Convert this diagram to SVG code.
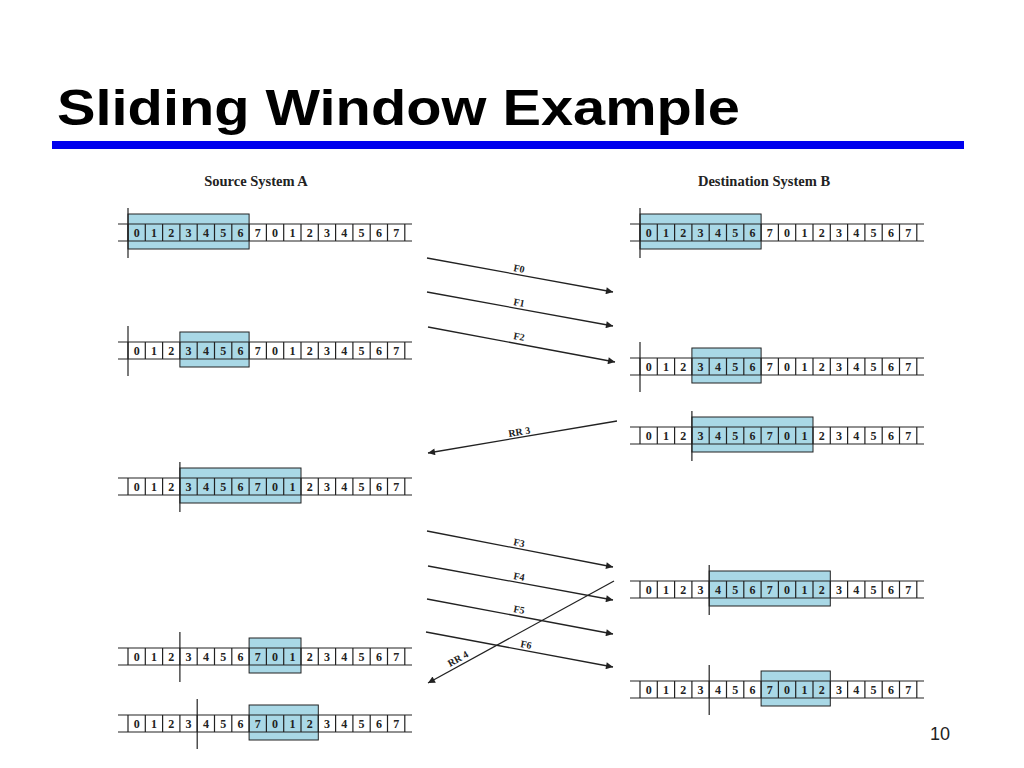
<svg xmlns="http://www.w3.org/2000/svg" xmlns:xlink="http://www.w3.org/1999/xlink" width="1024" height="768" viewBox="0 0 1024 768">
<style>
.d{font-family:"Liberation Serif",serif;font-weight:bold;font-size:12px;text-anchor:middle;fill:#222}
.w{fill:#a9d8e6;stroke:#222;stroke-width:1}
.ln{stroke:#222;stroke-width:1.2;fill:none}
.ar{stroke:#222;stroke-width:1.3;fill:none;marker-end:url(#ah)}
.lb{font-family:"Liberation Serif",serif;font-weight:bold;font-size:10px;fill:#222}
.h{font-family:"Liberation Serif",serif;font-weight:bold;font-size:14.5px;text-anchor:middle;fill:#222}
</style>
<defs>
<marker id="ah" viewBox="0 0 10 10" refX="10" refY="5" markerWidth="10" markerHeight="7" orient="auto" markerUnits="userSpaceOnUse"><path d="M0,0L10,5L0,10z" fill="#222"/></marker>
<path id="tape" class="ln" d="M118,-9H412M118,8H412M128,-9V8M145.3,-9V8M162.6,-9V8M179.9,-9V8M197.2,-9V8M214.5,-9V8M231.8,-9V8M249.1,-9V8M266.4,-9V8M283.7,-9V8M301,-9V8M318.3,-9V8M335.6,-9V8M352.9,-9V8M370.2,-9V8M387.5,-9V8M404.8,-9V8"/>
<g id="digits" class="d">
<text x="136.7" y="4">0</text><text x="154" y="4">1</text><text x="171.3" y="4">2</text><text x="188.6" y="4">3</text><text x="205.9" y="4">4</text><text x="223.2" y="4">5</text><text x="240.5" y="4">6</text><text x="257.8" y="4">7</text><text x="275.1" y="4">0</text><text x="292.4" y="4">1</text><text x="309.7" y="4">2</text><text x="327" y="4">3</text><text x="344.3" y="4">4</text><text x="361.6" y="4">5</text><text x="378.9" y="4">6</text><text x="396.2" y="4">7</text>
</g>
</defs>
<rect width="1024" height="768" fill="#fff"/>
<text x="57" y="125" font-family="Liberation Sans,Arial,sans-serif" font-weight="bold" font-size="50" fill="#000" textLength="683" lengthAdjust="spacingAndGlyphs">Sliding Window Example</text>
<rect x="52" y="141" width="912" height="8" fill="#0000ee"/>
<text class="h" x="256" y="186">Source System A</text>
<text class="h" x="764" y="186">Destination System B</text>
<text x="940" y="740" font-family="Liberation Sans,Arial,sans-serif" font-size="18" text-anchor="middle" fill="#222">10</text>

<g id="A1" transform="translate(0,233)"><rect class="w" x="128" y="-19" width="121.1" height="35"/><use href="#tape"/><path class="ln" d="M128,-25V25"/><use href="#digits"/></g>
<g id="A2" transform="translate(0,351)"><rect class="w" x="179.9" y="-19" width="69.2" height="35"/><use href="#tape"/><path class="ln" d="M128,-25V25"/><use href="#digits"/></g>
<g id="A3" transform="translate(0,487)"><rect class="w" x="179.9" y="-19" width="121.1" height="35"/><use href="#tape"/><path class="ln" d="M179.9,-25V25"/><use href="#digits"/></g>
<g id="A4" transform="translate(0,657)"><rect class="w" x="249.1" y="-19" width="51.9" height="35"/><use href="#tape"/><path class="ln" d="M179.9,-25V25"/><use href="#digits"/></g>
<g id="A5" transform="translate(0,724)"><rect class="w" x="249.1" y="-19" width="69.2" height="35"/><use href="#tape"/><path class="ln" d="M197.2,-25V25"/><use href="#digits"/></g>

<g id="B1" transform="translate(512,233)"><rect class="w" x="128" y="-19" width="121.1" height="35"/><use href="#tape"/><path class="ln" d="M128,-25V25"/><use href="#digits"/></g>
<g id="B2" transform="translate(512,367)"><rect class="w" x="179.9" y="-19" width="69.2" height="35"/><use href="#tape"/><path class="ln" d="M128,-25V25"/><use href="#digits"/></g>
<g id="B3" transform="translate(512,436)"><rect class="w" x="179.9" y="-19" width="121.1" height="35"/><use href="#tape"/><path class="ln" d="M179.9,-25V25"/><use href="#digits"/></g>
<g id="B4" transform="translate(512,590)"><rect class="w" x="197.2" y="-19" width="121.1" height="35"/><use href="#tape"/><path class="ln" d="M197.2,-25V25"/><use href="#digits"/></g>
<g id="B5" transform="translate(512,690)"><rect class="w" x="249.1" y="-19" width="69.2" height="35"/><use href="#tape"/><path class="ln" d="M197.2,-25V25"/><use href="#digits"/></g>

<g id="connectors">
<line class="ar" x1="427" y1="258" x2="613" y2="292"/>
<line class="ar" x1="427" y1="292" x2="613" y2="326"/>
<line class="ar" x1="428" y1="327" x2="615" y2="362"/>
<line class="ar" x1="617" y1="421" x2="428" y2="453"/>
<line class="ar" x1="427" y1="531" x2="613" y2="567"/>
<line class="ar" x1="428" y1="566" x2="613" y2="600"/>
<line class="ar" x1="427" y1="599" x2="613" y2="634"/>
<line class="ar" x1="426" y1="632" x2="613" y2="667"/>
<line class="ar" x1="614" y1="581" x2="428" y2="683"/>
<text class="lb" transform="translate(513,271) rotate(10.5)">F0</text>
<text class="lb" transform="translate(513,305) rotate(10.5)">F1</text>
<text class="lb" transform="translate(513,339) rotate(10.5)">F2</text>
<text class="lb" transform="translate(509,437) rotate(-9.5)">RR 3</text>
<text class="lb" transform="translate(513,545) rotate(11)">F3</text>
<text class="lb" transform="translate(513,579) rotate(10.5)">F4</text>
<text class="lb" transform="translate(513,612) rotate(10.5)">F5</text>
<text class="lb" transform="translate(520,647) rotate(10.5)">F6</text>
<text class="lb" transform="translate(450,667) rotate(-29)">RR 4</text>
</g>
</svg>
